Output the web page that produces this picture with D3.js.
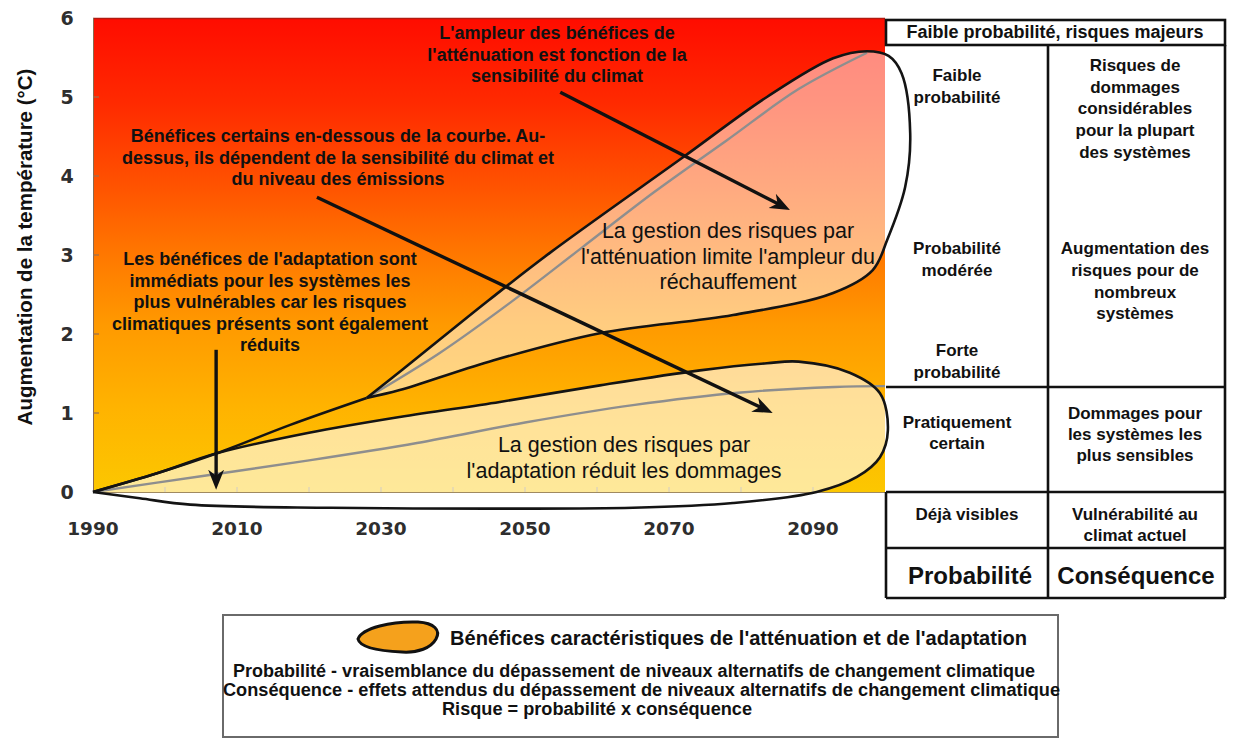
<!DOCTYPE html>
<html><head><meta charset="utf-8">
<script src="https://cdn.jsdelivr.net/npm/d3@7"></script>
<style>body{margin:0;background:#fff}svg{display:block}</style>
</head><body><svg id="c" width="1233" height="738"></svg>
<script>
// ---------- data ----------
const xTicks = [1990, 2010, 2030, 2050, 2070, 2090];
const xMinorTicks = [2000, 2010, 2020, 2030, 2040, 2050, 2060, 2070, 2080, 2090];
const yTicks = [0, 1, 2, 3, 4, 5, 6];

// adaptation lobe outline (year, °C), closed at the 1990 origin
const adaptLobe = [[1990,0],[1999,0.24],[2007.2,0.49],[2020,0.75],[2032.6,0.95],[2046.5,1.14],[2060.4,1.35],[2074.3,1.54],[2083.6,1.63],[2088,1.65],[2095.1,1.51],[2099.3,1.25],[2100.4,0.78],[2099.3,0.44],[2096.1,0.19],[2090.5,0.0],[2078.9,-0.14],[2065,-0.2],[2045,-0.21],[2023,-0.2],[2003.5,-0.16],[1996.5,-0.08],[1990,0]];
const adaptMedian = [[1990,0],[2005,0.2],[2020,0.4],[2035,0.62],[2050,0.88],[2065,1.1],[2080,1.26],[2093,1.33],[2100,1.34]];
// common stem leading to the mitigation lobe
const mitigStem = [[1990,0],[1999,0.24],[2007.2,0.49],[2017.4,0.85],[2028,1.19]];
const mitigLobe = [[2028,1.19],[2033,1.55],[2045,2.43],[2053.5,3.03],[2072,4.24],[2083.6,5.0],[2092.8,5.49],[2097.5,5.58],[2100.5,5.52],[2102.3,5.3],[2103.5,4.54],[2102.8,3.86],[2100.3,3.19],[2098.3,2.81],[2092.8,2.52],[2078.9,2.24],[2060.4,2.01],[2045,1.65],[2032.6,1.29],[2028,1.19]];
const mitigMedian = [[2028,1.19],[2038,1.75],[2048,2.4],[2058,3.1],[2068,3.8],[2078,4.45],[2088,5.1],[2097.5,5.56]];
// annotation arrows (year, °C)
const arrows = [
  {from:[2054.9,5.06], to:[2086.8,3.57]},
  {from:[2021.1,3.73], to:[2084.4,1.0]},
  {from:[2007.1,1.8],  to:[2007.1,0.03]}
];

const boldNotes = [
  {cx:557, lines:["L'ampleur des bénéfices de","l'atténuation est fonction de la","sensibilité du climat"], y0:39, dy:21.5},
  {cx:338, lines:["Bénéfices certains en-dessous de la courbe. Au-","dessus, ils dépendent de la sensibilité du climat et","du niveau des émissions"], y0:142, dy:21.5},
  {cx:270, lines:["Les bénéfices de l'adaptation sont","immédiats pour les systèmes les","plus vulnérables car les risques","climatiques présents sont également","réduits"], y0:265, dy:21.5}
];
const plainNotes = [
  {cx:728, lines:["La gestion des risques par","l'atténuation limite l'ampleur du","réchauffement"], y0:238, dy:25.5},
  {cx:624, lines:["La gestion des risques par","l'adaptation réduit les dommages"], y0:452, dy:26}
];

const tableCells = [
  {cx:1055, lines:["Faible probabilité, risques majeurs"], y:[38], size:18},
  {cx:957, lines:["Faible","probabilité"], y:[81,103], size:17},
  {cx:1135, lines:["Risques de","dommages","considérables","pour la plupart","des systèmes"], y:[71,93,114,136,158], size:17},
  {cx:957, lines:["Probabilité","modérée"], y:[254,276], size:17},
  {cx:1135, lines:["Augmentation des","risques pour de","nombreux","systèmes"], y:[254,276,298,319], size:17},
  {cx:957, lines:["Forte","probabilité"], y:[356,378], size:17},
  {cx:957, lines:["Pratiquement","certain"], y:[428,449], size:17},
  {cx:1135, lines:["Dommages pour","les systèmes les","plus sensibles"], y:[419,440,461], size:17},
  {cx:967, lines:["Déjà visibles"], y:[520], size:17},
  {cx:1135, lines:["Vulnérabilité au","climat actuel"], y:[520,541], size:17},
  {cx:970, lines:["Probabilité"], y:[584], size:24},
  {cx:1136, lines:["Conséquence"], y:[584], size:24}
];

const legendLines = [
  {text:"Probabilité - vraisemblance du dépassement de niveaux alternatifs de changement climatique", x:233, y:677, len:802},
  {text:"Conséquence - effets attendus du dépassement de niveaux alternatifs de changement climatique", x:223, y:696, len:837},
  {text:"Risque = probabilité x conséquence", x:442, y:715, len:310}
];

// ---------- drawing ----------
const F = "'Liberation Sans', Arial, Helvetica, sans-serif";
const svg = d3.select('#c');
const x = d3.scaleLinear().domain([1990, 2100]).range([93, 885]);
const y = d3.scaleLinear().domain([0, 6]).range([492, 18]);

const defs = svg.append('defs');
const g = defs.append('linearGradient').attr('id','bg').attr('x1',0).attr('y1',0).attr('x2',0).attr('y2',1);
[[0,'#ff0c00'],[0.18,'#ff2a00'],[0.36,'#ff5400'],[0.5,'#ff7800'],[0.65,'#ff9a00'],[0.82,'#ffb300'],[1,'#fcc700']]
  .forEach(([o,c]) => g.append('stop').attr('offset',o).attr('stop-color',c));
defs.append('clipPath').attr('id','clip').append('rect')
  .attr('x',x(1990)).attr('y',y(6)).attr('width',x(2100)-x(1990)).attr('height',y(0)-y(6));
defs.append('marker').attr('id','ah').attr('markerUnits','userSpaceOnUse')
  .attr('markerWidth',22).attr('markerHeight',18).attr('refX',20).attr('refY',9).attr('orient','auto')
  .append('path').attr('d','M0,1 L20,9 L0,17 L6,9 Z').attr('fill','#111');

// plot background
svg.append('rect').attr('x',x(1990)).attr('y',y(6)).attr('width',x(2100)-x(1990)).attr('height',y(0)-y(6))
  .attr('fill','url(#bg)');
svg.append('line').attr('x1',x(1990)).attr('x2',x(2100)).attr('y1',y(6)+0.5).attr('y2',y(6)+0.5).attr('stroke','#b21a10').attr('stroke-width',1.5);
svg.append('line').attr('x1',x(1990)+0.5).attr('x2',x(1990)+0.5).attr('y1',y(6)).attr('y2',y(0)).attr('stroke','#8a6a50').attr('stroke-width',1);
svg.append('line').attr('x1',x(1990)).attr('x2',x(2100)).attr('y1',y(0)+0.5).attr('y2',y(0)+0.5).attr('stroke','#a08a60').attr('stroke-width',1);

// ticks
svg.append('g').selectAll('line').data(yTicks.slice(1,6)).join('line')
  .attr('x1',x(1990)).attr('x2',x(1990)+6).attr('y1',d=>y(d)).attr('y2',d=>y(d)).attr('stroke','#9a7050').attr('stroke-width',1.2);
svg.append('g').selectAll('line').data(xMinorTicks).join('line')
  .attr('x1',d=>x(d)).attr('x2',d=>x(d)).attr('y1',y(0)).attr('y2',y(0)-5).attr('stroke','#a08a60').attr('stroke-width',1.2);

const line = d3.line().x(d=>x(d[0])).y(d=>y(d[1])).curve(d3.curveCatmullRom.alpha(0.5));

// lobe fills (clipped to plot)
const fills = svg.append('g').attr('clip-path','url(#clip)');
fills.append('path').attr('d', line(mitigLobe)+'Z').attr('fill','#fff').attr('fill-opacity',0.5);
fills.append('path').attr('d', line(adaptLobe)+'Z').attr('fill','#fff').attr('fill-opacity',0.6);

// median lines
[adaptMedian, mitigMedian].forEach(d => svg.append('path').attr('d', line(d)).attr('fill','none')
  .attr('stroke','#8e8e8e').attr('stroke-width',2.4));

// outlines
[adaptLobe, mitigLobe, mitigStem].forEach(d => svg.append('path').attr('d', line(d)).attr('fill','none')
  .attr('stroke','#141414').attr('stroke-width',2.6).attr('stroke-linejoin','round'));

// arrows
arrows.forEach(a => {
  const x1 = x(a.from[0]), y1 = y(a.from[1]), x2 = x(a.to[0]), y2 = y(a.to[1]);
  const L = Math.hypot(x2-x1, y2-y1), k = (L-8)/L;
  svg.append('line').attr('x1',x1).attr('y1',y1).attr('x2',x1+(x2-x1)*k).attr('y2',y1+(y2-y1)*k)
    .attr('stroke','#111').attr('stroke-width',3.4);
  svg.append('line').attr('x1',x1+(x2-x1)*k).attr('y1',y1+(y2-y1)*k).attr('x2',x2).attr('y2',y2)
    .attr('stroke','none').attr('marker-end','url(#ah)');
});

// annotation texts
function block(n, weight, size) {
  const t = svg.append('text').attr('font-family',F).attr('font-weight',weight).attr('font-size',size)
    .attr('text-anchor','middle').attr('fill','#111');
  n.lines.forEach((s,i) => t.append('tspan').attr('x',n.cx).attr('y',n.y0+i*n.dy).text(s));
}
boldNotes.forEach(n => block(n, 'bold', 18));
plainNotes.forEach(n => block(n, 'normal', 21.5));

// axes labels
const tickFont = "'DejaVu Sans', Verdana, sans-serif";
svg.append('g').selectAll('text').data(yTicks).join('text')
  .attr('x',67).attr('y',d=>y(d)+7).attr('text-anchor','middle')
  .attr('font-family',tickFont).attr('font-weight','bold').attr('font-size',19).attr('fill','#2e2e2e').text(d=>d);
svg.append('g').selectAll('text').data(xTicks).join('text')
  .attr('x',d=>x(d)).attr('y',535).attr('text-anchor','middle')
  .attr('font-family',tickFont).attr('font-weight','bold').attr('font-size',18.5).attr('fill','#2e2e2e').text(d=>d);
svg.append('text').attr('transform','translate(32,247) rotate(-90)').attr('text-anchor','middle')
  .attr('font-family',F).attr('font-weight','bold').attr('font-size',20.5).attr('fill','#111')
  .text('Augmentation de la température (°C)');

// table
const T = svg.append('g').attr('stroke','#111').attr('stroke-width',2.6).attr('fill','none');
T.append('rect').attr('x',886).attr('y',20).attr('width',339).attr('height',25);
T.append('line').attr('x1',1225).attr('x2',1225).attr('y1',45).attr('y2',598);
T.append('line').attr('x1',1048).attr('x2',1048).attr('y1',45).attr('y2',598);
T.append('line').attr('x1',886).attr('x2',886).attr('y1',492).attr('y2',598);
[387, 492, 548, 598].forEach(v => T.append('line').attr('x1',886).attr('x2',1225).attr('y1',v).attr('y2',v));
tableCells.forEach(c => {
  const t = svg.append('text').attr('font-family',F).attr('font-weight','bold').attr('font-size',c.size)
    .attr('text-anchor','middle').attr('fill','#111');
  c.lines.forEach((s,i) => t.append('tspan').attr('x',c.cx).attr('y',c.y[i]).text(s));
});

// legend
svg.append('rect').attr('x',223).attr('y',615).attr('width',835).attr('height',122)
  .attr('fill','#fff').attr('stroke','#6a6a6a').attr('stroke-width',2);
svg.append('path').attr('d','M358,639 C362,628 392,621 418,622 C434,623 441,630 436,639 C431,648 418,653 402,652 C380,651 360,648 358,639 Z')
  .attr('fill','#f5a11c').attr('stroke','#111').attr('stroke-width',3);
svg.append('text').attr('x',450).attr('y',645).attr('font-family',F).attr('font-weight','bold').attr('font-size',20)
  .attr('textLength',577).attr('lengthAdjust','spacingAndGlyphs').attr('fill','#111')
  .text("Bénéfices caractéristiques de l'atténuation et de l'adaptation");
svg.append('g').selectAll('text').data(legendLines).join('text')
  .attr('x',d=>d.x).attr('y',d=>d.y).attr('textLength',d=>d.len).attr('lengthAdjust','spacingAndGlyphs')
  .attr('font-family',F).attr('font-weight','bold').attr('font-size',17.5).attr('fill','#111').text(d=>d.text);
</script>
</body></html>
